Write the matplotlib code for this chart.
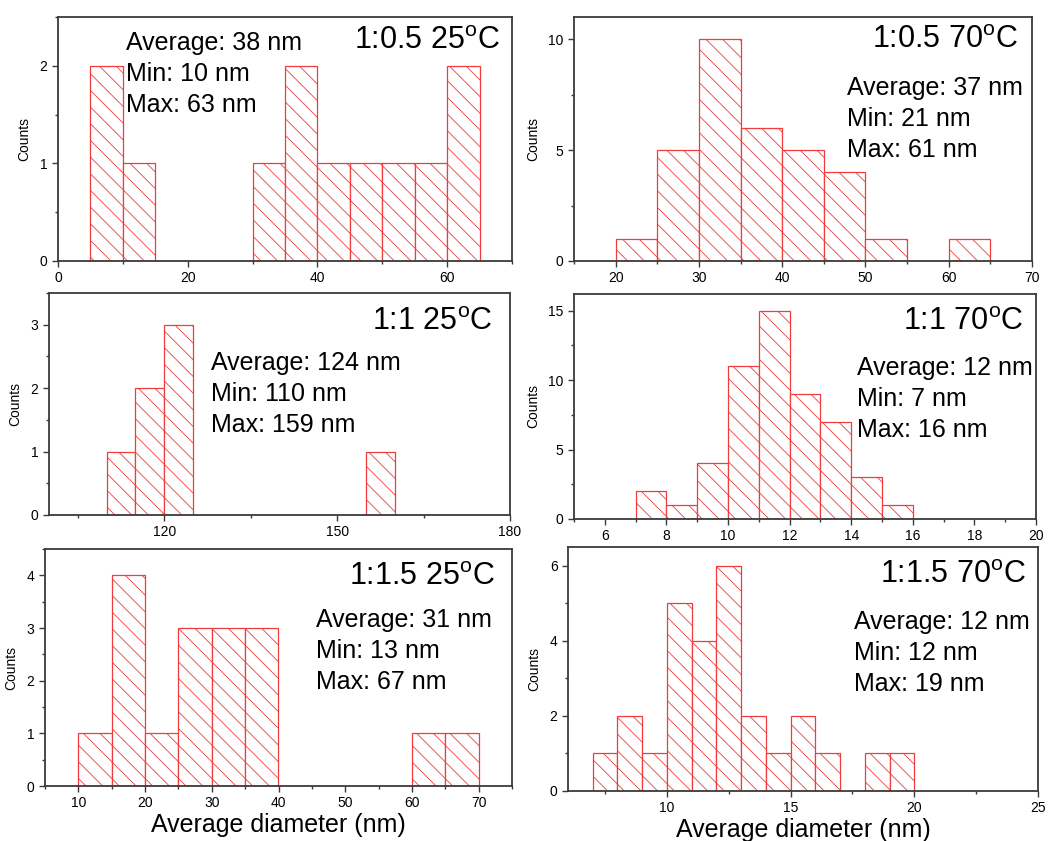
import matplotlib
matplotlib.use("Agg")
import matplotlib.pyplot as plt
from matplotlib.ticker import MultipleLocator

plt.rcParams["font.family"] = ["Liberation Sans", "DejaVu Sans"]
plt.rcParams["hatch.linewidth"] = 0.6
plt.rcParams["mathtext.fontset"] = "custom"
plt.rcParams["mathtext.rm"] = "Liberation Sans"

# ----------------------------
# Histogram data (bin left edge, counts)
# ----------------------------
p1_left = [5, 10, 30, 35, 40, 45, 50, 55, 60]
p1_counts = [2, 1, 1, 2, 1, 1, 1, 1, 2]

p2_left = [20, 25, 30, 35, 40, 45, 50, 60]
p2_counts = [1, 5, 10, 6, 5, 4, 1, 1]

p3_left = [110, 115, 120, 155]
p3_counts = [1, 2, 3, 1]

p4_left = [7, 8, 9, 10, 11, 12, 13, 14, 15]
p4_counts = [2, 1, 4, 11, 15, 9, 7, 3, 1]

p5_left = [10, 15, 20, 25, 30, 35, 60, 65]
p5_counts = [1, 4, 1, 3, 3, 3, 1, 1]

p6_left = [7, 8, 9, 10, 11, 12, 13, 14, 15, 16, 18, 19]
p6_counts = [1, 2, 1, 5, 4, 6, 2, 1, 2, 1, 1, 1]

titles = ["1:0.5 25$^\\mathrm{o}$C", "1:0.5 70$^\\mathrm{o}$C",
          "1:1 25$^\\mathrm{o}$C", "1:1 70$^\\mathrm{o}$C",
          "1:1.5 25$^\\mathrm{o}$C", "1:1.5 70$^\\mathrm{o}$C"]
stats = [
    ["Average: 38 nm", "Min: 10 nm", "Max: 63 nm"],
    ["Average: 37 nm", "Min: 21 nm", "Max: 61 nm"],
    ["Average: 124 nm", "Min: 110 nm", "Max: 159 nm"],
    ["Average: 12 nm", "Min: 7 nm", "Max: 16 nm"],
    ["Average: 31 nm", "Min: 13 nm", "Max: 67 nm"],
    ["Average: 12 nm", "Min: 12 nm", "Max: 19 nm"],
]

# panel config: (left, counts, bin width, xlim, ylim, x major, x minor, y major, y minor)
panels = [
    (p1_left, p1_counts, 5, (0, 70), (0, 2.5), 20, 10, 1, 0.5),
    (p2_left, p2_counts, 5, (15, 70), (0, 11), 10, 5, 5, 2.5),
    (p3_left, p3_counts, 5, (100, 180), (0, 3.5), 30, 15, 1, 0.5),
    (p4_left, p4_counts, 1, (5, 20), (0, 16.2), 2, 1, 5, 2.5),
    (p5_left, p5_counts, 5, (5, 75), (0, 4.5), 10, 5, 1, 0.5),
    (p6_left, p6_counts, 1, (6, 25), (0, 6.5), 5, 2.5, 2, 1),
]

# axes boxes in pixels: left, right, top, bottom
W, H = 1051, 841
boxes = [
    (58, 512, 17, 261), (574, 1032, 17, 261),
    (49, 510, 293, 515), (574, 1036, 294, 519),
    (45, 512, 549, 786), (568, 1038, 547, 791),
]
# text anchors in axes fraction: title right/center-y, stats left/first-line center-y
title_pos = [(0.974, 0.90), (0.969, 0.906), (0.963, 0.87),
             (0.974, 0.876), (0.964, 0.882), (0.974, 0.885)]
stats_pos = [(0.15, 0.895), (0.596, 0.71), (0.351, 0.685),
             (0.613, 0.671), (0.58, 0.70), (0.608, 0.693)]

RED = "#f03c3c"
SPINE = "#3a3a3a"

fig = plt.figure(figsize=(W / 100, H / 100), dpi=100)

for i, (left, counts, bw, xl, yl, xmaj, xmin, ymaj, ymin) in enumerate(panels):
    l, r, t, b = boxes[i]
    ax = fig.add_axes([l / W, 1 - b / H, (r - l) / W, (b - t) / H])

    ax.bar(left, counts, width=bw, align="edge", facecolor="white",
           edgecolor=RED, hatch="\\\\", linewidth=0.9)

    ax.set_xlim(*xl)
    ax.set_ylim(*yl)
    ax.xaxis.set_major_locator(MultipleLocator(xmaj))
    ax.xaxis.set_minor_locator(MultipleLocator(xmin))
    ax.yaxis.set_major_locator(MultipleLocator(ymaj))
    ax.yaxis.set_minor_locator(MultipleLocator(ymin))
    ax.tick_params(which="both", direction="out", colors=SPINE, labelcolor="black",
                   labelsize=10, top=False, right=False)
    ax.tick_params(which="major", length=4, width=1)
    ax.tick_params(which="minor", length=2.5, width=1)
    for s in ax.spines.values():
        s.set_color(SPINE)
        s.set_linewidth(1.3)

    ax.set_ylabel("Counts", fontsize=10, labelpad=6)

    tx, ty = title_pos[i]
    ax.text(tx, ty, titles[i], transform=ax.transAxes, ha="right", va="center",
            fontsize=22)

    sx, sy = stats_pos[i]
    for k, line in enumerate(stats[i]):
        ax.annotate(line, (sx, sy), xycoords="axes fraction",
                    xytext=(0, -31 * k), textcoords="offset pixels",
                    ha="left", va="center", fontsize=18)

    if i >= 4:
        ax.set_xlabel("Average diameter (nm)", fontsize=18, labelpad=2)

fig.savefig("out.png", dpi=100)
